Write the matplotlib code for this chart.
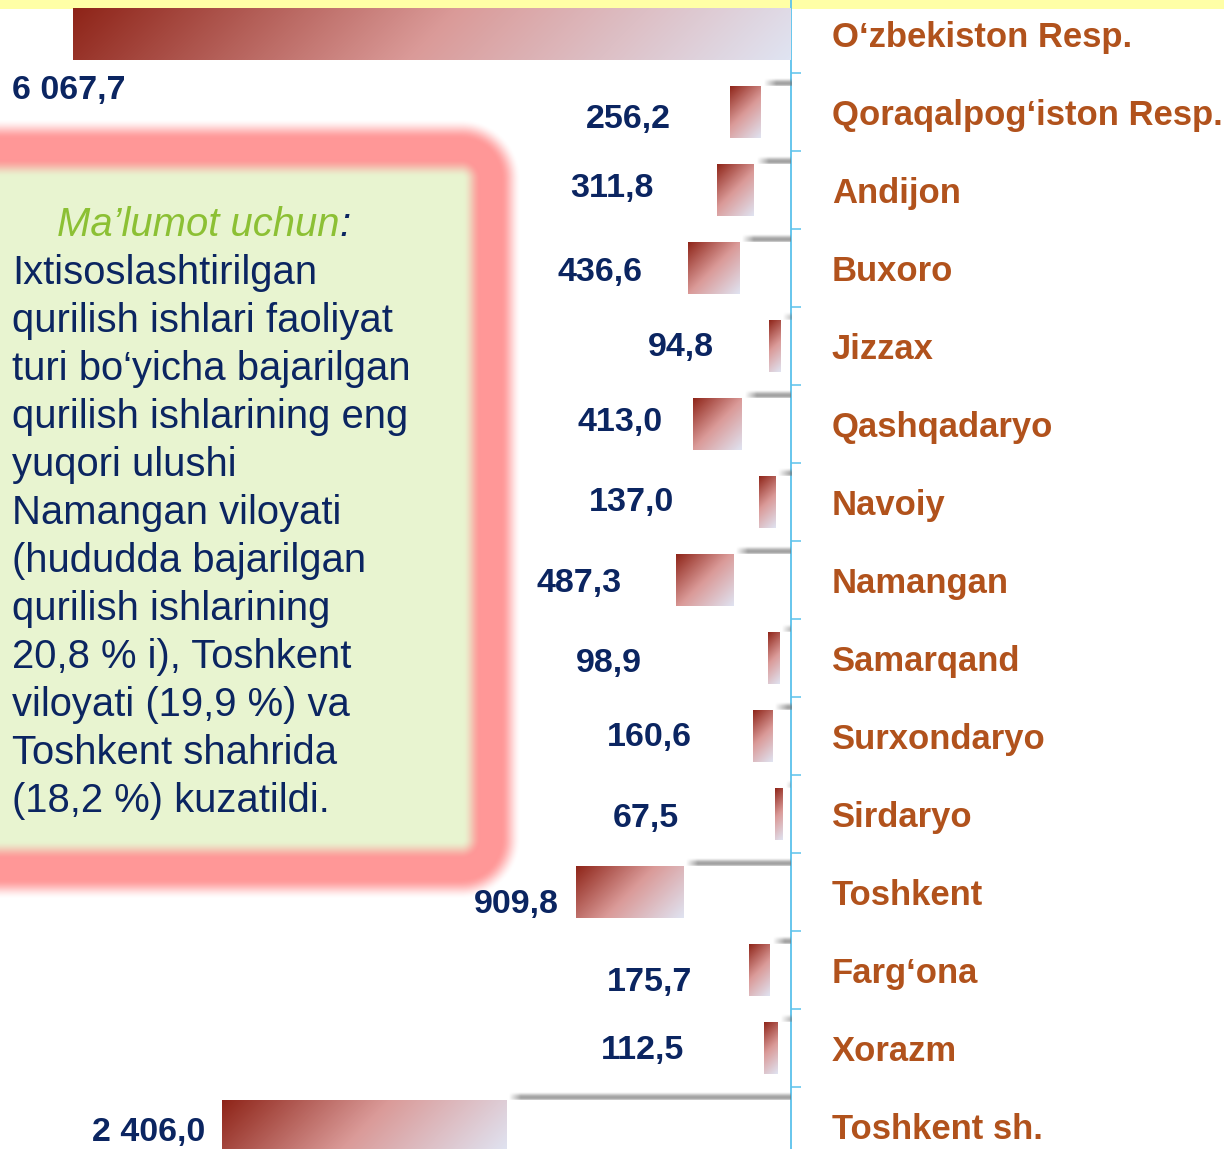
import numpy as np
import matplotlib
matplotlib.use("Agg")
import matplotlib.pyplot as plt
from matplotlib.colors import LinearSegmentedColormap, to_rgb
from matplotlib.patches import Rectangle

plt.rcParams['font.family'] = ['Liberation Sans', 'DejaVu Sans']

# data
regions = ["O‘zbekiston Resp.", "Qoraqalpog‘iston Resp.", "Andijon", "Buxoro", "Jizzax",
           "Qashqadaryo", "Navoiy", "Namangan", "Samarqand", "Surxondaryo", "Sirdaryo",
           "Toshkent", "Farg‘ona", "Xorazm", "Toshkent sh."]
values = [6067.7, 256.2, 311.8, 436.6, 94.8, 413.0, 137.0, 487.3, 98.9, 160.6, 67.5,
          909.8, 175.7, 112.5, 2406.0]
is_total = [True] + [False] * 14

note_title = "Ma’lumot uchun"
note_lines = ["Ixtisoslashtirilgan",
              "qurilish ishlari faoliyat",
              "turi bo‘yicha bajarilgan",
              "qurilish ishlarining eng",
              "yuqori ulushi",
              "Namangan viloyati",
              "(hududda bajarilgan",
              "qurilish ishlarining",
              "20,8 % i), Toshkent",
              "viloyati (19,9 %) va",
              "Toshkent shahrida",
              "(18,2 %) kuzatildi."]

# hand placed value labels (pixels: right, down)
lab_dx = [52, -60, -64, -45, -55, -31, -84, -54, -126, -61, -96, -17, -57, -80, -16]
lab_dy = [56, 7, -2, 4, 1, -2, 0, 3, 5, 1, 4, 12, 13, 3, 6]

navy = '#0B2561'
brown = '#B1521C'
green = '#8CC034'
axis_blue = '#5BC2EC'

W, H = 1224, 1149
fig = plt.figure(figsize=(W / 100, H / 100), dpi=100)

# background layer in pixel units: yellow strip + note box
bg = fig.add_axes([0, 0, 1, 1])
bg.set_zorder(0)
bg.add_patch(Rectangle((0, 0), W, 9, color='#FFFFA6', lw=0))

yy, xx = np.mgrid[0:H, 0:W] + 0.5
left, right, top, bottom, rad = -80, 511, 129, 889, 50
cx, cy = (left + right) / 2, (top + bottom) / 2
qx = np.abs(xx - cx) - ((right - left) / 2 - rad)
qy = np.abs(yy - cy) - ((bottom - top) / 2 - rad)
d = np.hypot(np.maximum(qx, 0), np.maximum(qy, 0)) + np.minimum(np.maximum(qx, qy), 0) - rad


def smooth(e0, e1, x):
    t = np.clip((x - e0) / (e1 - e0), 0, 1)
    return t * t * (3 - 2 * t)


alpha = smooth(10, -10, d)
g = smooth(-30, -48, d)[..., None]
pink = np.array(to_rgb('#FF9797'))
fill = np.array(to_rgb('#E8F4D0'))
img = np.zeros((H, W, 4))
img[..., :3] = pink * (1 - g) + fill * g
img[..., 3] = alpha
bg.imshow(img, extent=(0, W, H, 0), interpolation='bilinear', aspect='auto')
bg.set_xlim(0, W)
bg.set_ylim(H, 0)
bg.axis('off')

t1 = bg.text(57, 225, note_title, fontsize=28.8, style='italic', color=green,
             ha='left', va='center')
fig.canvas.draw()
ext = t1.get_window_extent()
bg.text(ext.x1, 225, ":", fontsize=28.8, style='italic', color=navy, ha='left', va='center')
for i, line in enumerate(note_lines):
    bg.text(12, 273 + 48 * i, line, fontsize=28.8, color=navy, ha='left', va='center')

# chart
ax = fig.add_axes([0, 0, 791 / W, 1])
ax.set_zorder(2)
ax.patch.set_visible(False)

n = len(values)
vals = np.array(values)
spacer = np.where(is_total, 0, vals)
ypos = np.arange(n)
h = 0.655
ppu = 791 / 6686  # pixels per unit
xmin = -6686

cmap = LinearSegmentedColormap.from_list(
    'grad', [(0, '#8E2418'), (0.5, '#DA9A98'), (1, '#E0E4F2')])

ax.barh(ypos, spacer, left=-spacer, height=h, color='white', lw=0, zorder=2)
bars = ax.barh(ypos, vals, left=-(spacer + vals), height=h, color='none', lw=0, zorder=3)

for i, bar in enumerate(bars):
    wpx = max(int(round(values[i] * ppu)), 2)
    hpx = 51
    gx = np.arange(wpx) + 0.5
    gy = np.arange(hpx) + 0.5
    grad = (gx[None, :] + gy[:, None]) / (wpx + hpx)
    x0 = bar.get_x()
    im = ax.imshow(cmap(grad), extent=(x0, x0 + bar.get_width(), i + h / 2, i - h / 2),
                   aspect='auto', interpolation='bilinear', zorder=3)
    im.set_clip_path(bar)

    if spacer[i] > 0:
        # grey shadow along the top of the empty part
        sw = max(int(round(spacer[i] * ppu)) - 3, 2)
        prof = np.array([0.05, 0.18, 0.35, 0.52, 0.62, 0.66, 0.6, 0.4])
        ramp = np.clip((np.arange(sw) + 0.5) / 12, 0, 1)
        sh = np.zeros((len(prof), sw, 4))
        sh[..., :3] = 0.45
        sh[..., 3] = prof[:, None] * ramp[None, :]
        ytop = i - h / 2
        ax.imshow(sh, extent=(-spacer[i] + 3 / ppu, 0, ytop, ytop - 8 / 78),
                  aspect='auto', interpolation='bilinear', zorder=4)

    txt = f"{values[i]:,.1f}".replace(",", " ").replace(".", ",")
    ax.annotate(txt, xy=(x0, i), xytext=(lab_dx[i], -lab_dy[i]), textcoords='offset pixels',
                ha='right', va='center', fontsize=24.5, fontweight='bold', color=navy,
                annotation_clip=False, zorder=5)

ax.set_xlim(xmin, 0)
ax.set_ylim((H - 34) / 78, -34 / 78)

for s in ['left', 'top', 'bottom']:
    ax.spines[s].set_visible(False)
ax.spines['right'].set_color(axis_blue)
ax.spines['right'].set_linewidth(1.3)
ax.set_xticks([])
ax.yaxis.tick_right()
ax.set_yticks(ypos)
ax.set_yticklabels(regions, fontsize=24.9, fontweight='bold', color=brown)
ax.set_yticks(np.arange(0.5, n - 1, 1), minor=True)
ax.tick_params(axis='y', which='major', length=0, pad=29.5)
ax.tick_params(axis='y', which='minor', length=7.2, width=1.1, color=axis_blue, direction='out')

fig.savefig('out.png', dpi=100)
